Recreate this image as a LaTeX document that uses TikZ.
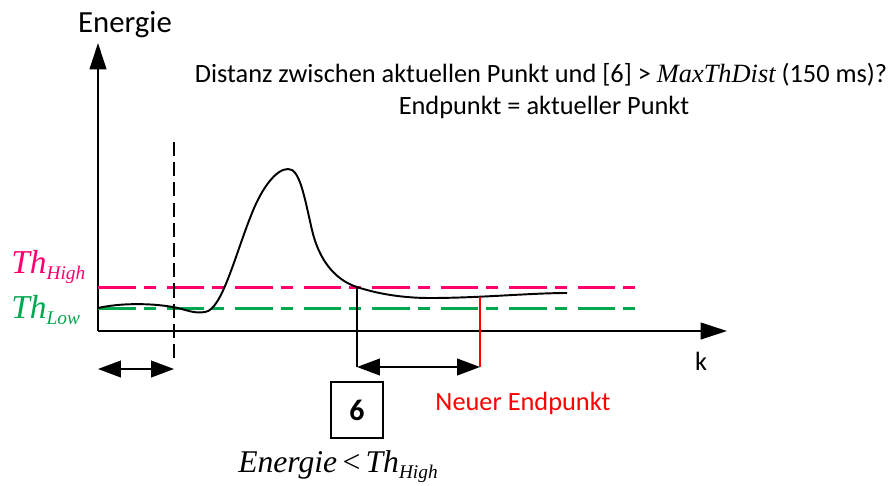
\documentclass[tikz,border=0pt]{standalone}
\usepackage{fontspec}
\setmainfont{Carlito}
\newfontfamily\tnr{Liberation Serif}
\usetikzlibrary{arrows.meta}
\definecolor{thpink}{RGB}{255,0,110}
\definecolor{thgreen}{RGB}{0,168,80}
\newcommand{\sub}[1]{\raisebox{-0.45ex}{\fontsize{11}{11}\selectfont #1}}
\tikzset{
  axis/.style={line width=1.1pt, -{Triangle[length=15pt,width=9.5pt]}},
  span/.style={line width=0.9pt, {Triangle[length=13pt,width=9.5pt]}-{Triangle[length=13pt,width=9.5pt]}},
  thline/.style={line width=1.7pt, dash pattern=on 21.5pt off 4.5pt on 6.8pt off 6.2pt},
  txt/.style={font=\fontsize{15}{18}\selectfont, inner sep=0pt, anchor=base},
}
\begin{document}
\begin{tikzpicture}[x=0.02cm, y=-0.02cm]
\useasboundingbox (0,0) rectangle (893,485);
% axes
\coordinate (O) at (98,331);
\coordinate (ytip) at (98,43);
\coordinate (xtip) at (727,331);
\draw[axis] (O) -- (ytip);
\draw[axis] (O) -- (xtip);
\node[txt, font=\fontsize{17.5}{20}\selectfont] (ylab) at (125,32) {Energie};
\node[txt] (xlab) at (701,370) {k};
% thresholds
\coordinate (thH0) at (98,287);
\coordinate (thH1) at (643,287);
\coordinate (thL0) at (98,308);
\coordinate (thL1) at (643,308);
\draw[thline, thpink] (thH0) -- (thH1);
\draw[thline, thgreen] (thL0) -- (thL1);
\node[inner sep=0pt, anchor=base west, thpink, font=\tnr\itshape\fontsize{19}{19}\selectfont] (thHlab) at (11,273) {Th\sub{High}};
\node[inner sep=0pt, anchor=base west, thgreen, font=\tnr\itshape\fontsize{19}{19}\selectfont] (thLlab) at (11,318) {Th\sub{Low}};
% start region
\coordinate (cut0) at (174,142);
\coordinate (cut1) at (174,360);
\draw[line width=1.6pt, dash pattern=on 8pt off 3.5pt] (cut0) -- (cut1);
\coordinate (s0) at (98,369);
\coordinate (s1) at (174,369);
\draw[span] (s0) -- (s1);
% energy curve
\draw[line width=1.1pt] (98,308) .. controls (120,303) and (150,303) .. (173,307)
  .. controls (185,309) and (193,314) .. (205,312)
  .. controls (222,310) and (235,255) .. (252,213)
  .. controls (262,188) and (276,169) .. (288,169)
  .. controls (300,168) and (305,200) .. (312,230)
  .. controls (319,260) and (335,280) .. (357,287)
  .. controls (375,293) and (400,298) .. (430,298)
  .. controls (480,298) and (530,293) .. (567,293);
% end point
\coordinate (p6) at (357,287);
\coordinate (p6b) at (357,367);
\coordinate (pe) at (480,297);
\coordinate (peb) at (480,367);
\draw[line width=1.1pt] (p6) -- (p6b);
\draw[line width=1.1pt, red] (pe) -- (peb);
\draw[span] (p6b) -- (peb);
\node[draw, line width=1.1pt, minimum width=30pt, minimum height=32pt, font=\bfseries\fontsize{17}{17}\selectfont] (b6) at (357,410) {6};
\node[txt, red] (neu) at (523,410) {Neuer Endpunkt};
\node[inner sep=0pt, anchor=base, font=\tnr\itshape\fontsize{18}{18}\selectfont] (cond) at (338,472) {Energie\,{\upshape<}\,Th\sub{High}};
% question
\node[txt] (q1) at (541,82) {Distanz zwischen aktuellen Punkt und [6] > {\tnr\itshape MaxThDist} (150 ms)?};
\node[txt] (q2) at (544,114) {Endpunkt = aktueller Punkt};
\end{tikzpicture}
\end{document}
